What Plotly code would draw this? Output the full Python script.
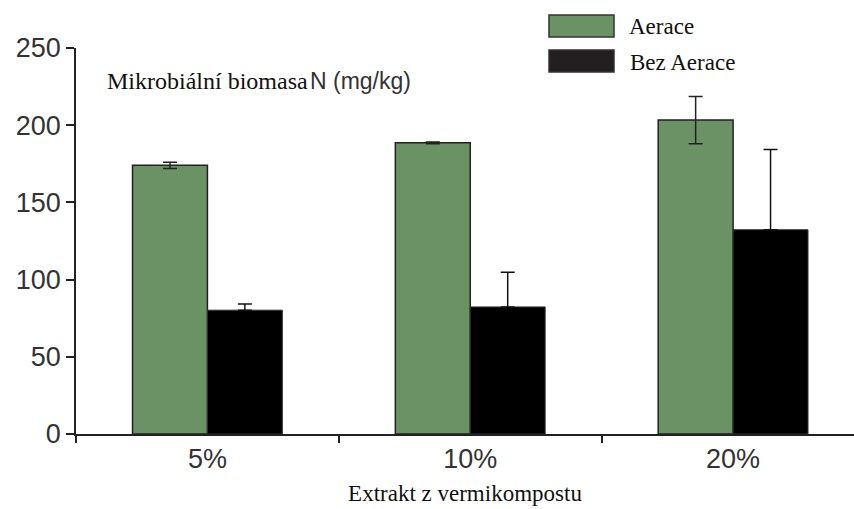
import plotly.graph_objects as go

# Data: microbial biomass N (mg/kg) by vermicompost extract concentration
categories = ["5%", "10%", "20%"]
aerace = [174, 188.6, 203.3]
aerace_err = [2, 0.6, 15.3]
bez_aerace = [80.2, 82.3, 132.3]
bez_aerace_err = [4, 22.5, 52]
y_ticks = [0, 50, 100, 150, 200, 250]

W, H = 854, 509
ML, MR, MT, MB = 76, 0, 48, 75
SANS = "Liberation Sans, Arial, sans-serif"
SERIF = "Liberation Serif, Times New Roman, serif"
GREEN = "#6b9264"
INK = "#222222"


def px_x(px):
    return (px - ML) / (W - ML - MR)


def px_y(py):
    return 1 - (py - MT) / (H - MT - MB)


fig = go.Figure()
fig.add_trace(go.Bar(
    name="Aerace", x=categories, y=aerace,
    marker=dict(color=GREEN, line=dict(color=INK, width=1.5)),
    error_y=dict(type="data", array=aerace_err, symmetric=True,
                 color=INK, thickness=1.5, width=7),
))
fig.add_trace(go.Bar(
    name="Bez Aerace", x=categories, y=bez_aerace,
    marker=dict(color="#000000", line=dict(color="#333333", width=1)),
    error_y=dict(type="data", array=bez_aerace_err, arrayminus=[0] * len(bez_aerace_err),
                 symmetric=False, color="#111111", thickness=1.5, width=7),
))

# Legend swatches and labels
swatches = [("Aerace", GREEN, 15, 37, 26, 627), ("Bez Aerace", "#231f20", 50, 72, 62, 628)]
shapes = []
annotations = []
for label, col, top, bot, ty, tx in swatches:
    shapes.append(dict(type="rect", xref="paper", yref="paper",
                       x0=px_x(549), x1=px_x(614), y0=px_y(bot), y1=px_y(top),
                       fillcolor=col, line=dict(color="#333333", width=1.5)))
    annotations.append(dict(text=label, xref="paper", yref="paper",
                            x=px_x(tx), y=px_y(ty), xanchor="left", yanchor="middle",
                            showarrow=False, font=dict(family=SERIF, size=23, color="#111111")))

# Y-axis caption inside the plot
annotations.append(dict(text="Mikrobiální biomasa", xref="paper", yref="paper",
                        x=px_x(105), y=px_y(81), xanchor="left", yanchor="middle",
                        showarrow=False, font=dict(family=SERIF, size=24, color="#111111")))
annotations.append(dict(text="N (mg/kg)", xref="paper", yref="paper",
                        x=px_x(308), y=px_y(81), xanchor="left", yanchor="middle",
                        showarrow=False, font=dict(family=SANS, size=23, color="#333333")))

fig.update_layout(
    width=W, height=H,
    margin=dict(l=ML, r=MR, t=MT, b=MB, pad=0),
    paper_bgcolor="white", plot_bgcolor="white",
    barmode="group", bargap=0.43, bargroupgap=0,
    showlegend=False,
    shapes=shapes, annotations=annotations,
    xaxis=dict(
        range=[-0.5, 2.46], showline=True, linecolor=INK, linewidth=1.5,
        ticks="outside", tickson="boundaries", ticklen=7, tickwidth=1.5, tickcolor=INK,
        tickfont=dict(family=SANS, size=27, color="#333333"),
        showgrid=False, zeroline=False,
        title=dict(text="Extrakt z vermikompostu", standoff=12,
                   font=dict(family=SERIF, size=23, color="#111111")),
    ),
    yaxis=dict(
        range=[0, 250], tickvals=y_ticks, showline=True, linecolor=INK, linewidth=1.5,
        ticks="outside", ticklen=8, tickwidth=1.5, tickcolor=INK,
        tickfont=dict(family=SANS, size=27, color="#333333"),
        showgrid=False, zeroline=False,
    ),
)

fig.write_html("out.html")
